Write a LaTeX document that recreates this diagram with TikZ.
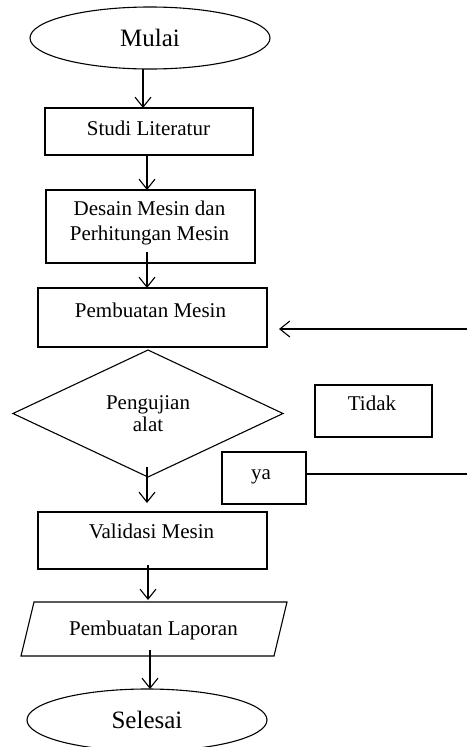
\documentclass[tikz,border=0pt]{standalone}
\usepackage{fontspec}
\setmainfont{Liberation Serif}
\usetikzlibrary{shapes.geometric,arrows.meta,calc}
\begin{document}
\begin{tikzpicture}[x=1pt,y=-1pt,
  every node/.style={inner sep=0pt, outer sep=0pt},
  box/.style={draw, line width=1.1pt, rectangle},
  txt/.style={font=\fontsize{21}{25}\selectfont, text height=15pt, text depth=4pt},
  txttwo/.style={font=\fontsize{21}{25}\selectfont, align=center},
  term/.style={draw, line width=1.1pt, ellipse, minimum width=240, minimum height=62, font=\fontsize{25}{30}\selectfont},
  arr/.style={line width=1.1pt, -{Straight Barb[length=10pt,width=16pt]}},
  ln/.style={line width=1.1pt}]
\path[use as bounding box] (0,0) rectangle (467,747);
\clip (0,0) rectangle (467,747);

\node[term] (mulai) at (150,38) {Mulai};
\node[box, minimum width=208, minimum height=47] (studi) at (149,131.5) {};
\node[txt] (studit) at (148.5,130) {Studi Literatur};
\node[box, minimum width=209, minimum height=73] (desain) at (150.5,226.5) {};
\node[txttwo] (desaint) at (149.5,223) {Desain Mesin dan\\Perhitungan Mesin};
\node[box, minimum width=229, minimum height=59] (pm) at (152.5,317.5) {};
\node[txt] (pmt) at (150.5,312) {Pembuatan Mesin};
\node[draw, diamond, line width=1.1pt, minimum width=270, minimum height=127] (uji) at (148,413.5) {};
\node[txttwo, font=\fontsize{21}{22}\selectfont] (ujit) at (148,414) {Pengujian\\alat};
\node[box, minimum width=117, minimum height=52] (tidak) at (373.5,411) {};
\node[txt] (tidakt) at (372,405) {Tidak};
\node[box, minimum width=84, minimum height=52] (ya) at (264,478) {};
\node[txt] (yat) at (261,474) {ya};
\node[box, minimum width=229, minimum height=57] (val) at (152.5,540.5) {};
\node[txt] (valt) at (151.5,533) {Validasi Mesin};
\node[minimum width=266, minimum height=54] (lap) at (154,629) {};
\draw[line width=1.1pt] ($(lap.north west)+(13,0)$) -- (lap.north east) -- ($(lap.south east)+(-13,0)$) -- (lap.south west) -- cycle;
\node[txt] (lapt) at (153.5,630) {Pembuatan Laporan};
\node[term] (selesai) at (147,720) {Selesai};

\draw[arr] ($(mulai.south)+(-7,0)$) -- ($(mulai.south |- studi.north)+(-7,0)$);
\draw[arr] ($(studi.south)+(-2,0)$) -- ($(studi.south |- desain.north)+(-2,0)$);
\draw[arr] ($(desain.south)+(-3.5,-11)$) -- ($(desain.south |- pm.north)+(-3.5,0)$);
\draw[arr] ($(uji.south)+(-1,-10)$) -- ($(uji.south |- val.north)+(-1,-9)$);
\draw[arr] ($(val.south)+(-4.5,-4)$) -- ($(val.south |- lap.north)+(-4.5,-2)$);
\draw[arr] ($(lap.south)+(-4,-6)$) -- ($(lap.south |- selesai.north)+(-4,0)$);

\coordinate (fbR) at (467,329);
\draw[arr] (fbR) -- ($(pm.east |- fbR)+(12,0)$);
\coordinate (yaR) at (467,474);
\draw[ln] (ya.east |- yaR) -- (yaR);
\end{tikzpicture}
\end{document}
